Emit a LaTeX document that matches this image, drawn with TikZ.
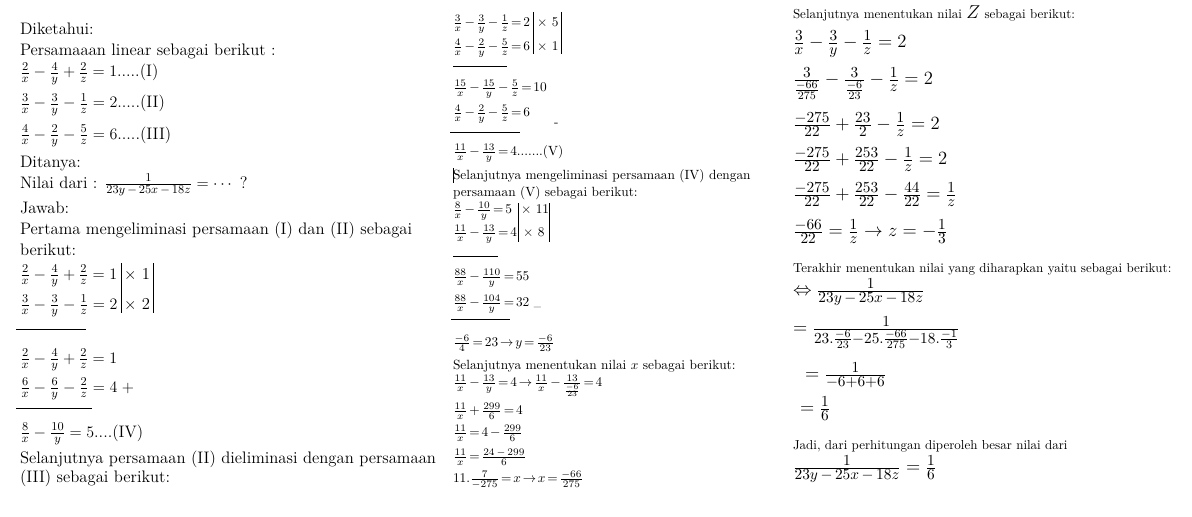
\RequirePackage{fix-cm}
\documentclass[tikz,border=0pt]{standalone}
\usepackage{amsmath}
\DeclareMathSizes{12.5}{12}{9}{7}
\DeclareMathSizes{10}{10}{7.5}{6}
\DeclareMathSizes{14}{14}{11.5}{8.5}
\newcommand{\sm}{\mkern3mu{-}\mkern3mu}
\newcommand{\tightmath}{\medmuskip=2.5mu\relax\thickmuskip=2.5mu\relax}
\begin{document}
\begin{tikzpicture}[x=0.75pt,y=-0.75pt,
  L/.style={anchor=base west,inner sep=0pt,outer sep=0pt,font=\fontsize{12.5}{14}\selectfont},
  M/.style={anchor=base west,inner sep=0pt,outer sep=0pt,font=\fontsize{10}{12}\selectfont\tightmath},
  Mt/.style={anchor=base west,inner sep=0pt,outer sep=0pt,font=\fontsize{9.75}{12}\selectfont},
  R/.style={anchor=base west,inner sep=0pt,outer sep=0pt,font=\fontsize{14}{16}\selectfont},
  rule/.style={line width=0.7pt},
  vbar/.style={line width=0.6pt}]
\useasboundingbox (0,0) rectangle (1192,517);
\fill[white] (0,0) rectangle (1192,517);
% ---------- left column ----------
\node[L] (l1) at (20,35) {Diketahui:};
\node[L] (l2) at (20,56) {Persamaaan linear sebagai berikut :};
\node[L] (l3) at (20,77) {$\frac{2}{x}-\frac{4}{y}+\frac{2}{z}=1$.....(I)};
\node[L] (l4) at (20,108) {$\frac{3}{x}-\frac{3}{y}-\frac{1}{z}=2$.....(II)};
\node[L] (l5) at (20,139) {$\frac{4}{x}-\frac{2}{y}-\frac{5}{z}=6$.....(III)};
\node[L] (l6) at (20,167) {Ditanya:};
\node[L] (l7) at (20,188) {Nilai dari : $\frac{1}{23y\sm 25x\sm 18z}=\cdots$ ?};
\node[L] (l8) at (20,213) {Jawab:};
\node[L] (l9) at (20,234) {Pertama mengeliminasi persamaan (I) dan (II) sebagai};
\node[L] (l10) at (20,255) {berikut:};
\node[L] (l11) at (20,279) {$\frac{2}{x}-\frac{4}{y}+\frac{2}{z}=1$};
\node[L] (l12) at (20,309) {$\frac{3}{x}-\frac{3}{y}-\frac{1}{z}=2$};
\node[L] (lx1) at (124,279) {$\times$ 1};
\node[L] (lx2) at (124,309) {$\times$ 2};
\draw[vbar] (121,263) -- (121,313);
\draw[vbar] (153,263) -- (153,313);
\draw[rule] (16,329) -- (86,329);
\node[L] (l13) at (20,363) {$\frac{2}{x}-\frac{4}{y}+\frac{2}{z}=1$};
\node[L] (l14) at (20,392) {$\frac{6}{x}-\frac{6}{y}-\frac{2}{z}=4\;+$};
\draw[rule] (16,408) -- (92,408);
\node[L] (l15) at (20,437) {$\frac{8}{x}-\frac{10}{y}=5$....(IV)};
\node[L] (l16) at (20,463) {Selanjutnya persamaan (II) dieliminasi dengan persamaan};
\node[L] (l17) at (20,482) {(III) sebagai berikut:};
% ---------- middle column ----------
\node[M] (m1) at (453,26.5) {$\frac{3}{x}-\frac{3}{y}-\frac{1}{z}=2$};
\node[M] (m2) at (453,50.5) {$\frac{4}{x}-\frac{2}{y}-\frac{5}{z}=6$};
\node[M] (mx1) at (537,26.5) {$\times$ 5};
\node[M] (mx2) at (537,50.5) {$\times$ 1};
\draw[vbar] (533,12) -- (533,54);
\draw[vbar] (561,12) -- (561,54);
\draw[rule] (453,66) -- (507,66);
\node[M] (m3) at (453,91.5) {$\frac{15}{x}-\frac{15}{y}-\frac{5}{z}=10$};
\node[M] (m4) at (453,116.5) {$\frac{4}{x}-\frac{2}{y}-\frac{5}{z}=6$};
\node[M] (md1) at (554,127) {-};
\draw[rule] (450,132) -- (520,132);
\node[M] (m5) at (453,155.5) {$\frac{11}{x}-\frac{13}{y}=4$.......(V)};
\draw[line width=0.4pt] (453.5,168) -- (453.5,183);
\node[M] (m6) at (453,179) {Selanjutnya mengeliminasi persamaan (IV) dengan};
\node[M] (m7) at (453,196) {persamaan (V) sebagai berikut:};
\node[M] (m8) at (453,213.5) {$\frac{8}{x}-\frac{10}{y}=5$};
\node[M] (m9) at (453,236.5) {$\frac{11}{x}-\frac{13}{y}=4$};
\node[M] (mx3) at (521,213.5) {$\times$ 11};
\node[M] (mx4) at (523,236.5) {$\times$ 8};
\draw[vbar] (518,203) -- (518,242);
\draw[vbar] (549,203) -- (549,242);
\draw[rule] (453,256) -- (498,256);
\node[M] (m10) at (453,280.5) {$\frac{88}{x}-\frac{110}{y}=55$};
\node[M] (m11) at (453,306.5) {$\frac{88}{x}-\frac{104}{y}=32$ {\fontsize{6}{6}\selectfont\textunderscore}};
\draw[rule] (451,319) -- (510,319);
\node[M] (m12) at (453,346.5) {$\frac{-6}{4}=23\rightarrow y=\frac{-6}{23}$};
\node[M] (m13) at (453,369) {Selanjutnya menentukan nilai $x$ sebagai berikut:};
\node[M] (m14) at (453,386.5) {$\frac{11}{x}-\frac{13}{y}=4\rightarrow\frac{11}{x}-\frac{13}{\frac{-6}{23}}=4$};
\node[M] (m15) at (453,414.5) {$\frac{11}{x}+\frac{299}{6}=4$};
\node[M] (m16) at (453,436.5) {$\frac{11}{x}=4-\frac{299}{6}$};
\node[M] (m17) at (453,460.5) {$\frac{11}{x}=\frac{24\sm 299}{6}$};
\node[M] (m18) at (453,482.5) {$11.\frac{7}{-275}=x\rightarrow x=\frac{-66}{275}$};
% ---------- right column ----------
\node[Mt] (r0) at (793,19) {Selanjutnya menentukan nilai {\fontsize{14}{16}\selectfont$Z$} sebagai berikut:};
\node[R] (r1) at (793,47.7) {$\frac{3}{x}-\frac{3}{y}-\frac{1}{z}=2$};
\node[R] (r2) at (793,84.7) {$\frac{3}{\frac{-66}{275}}-\frac{3}{\frac{-6}{23}}-\frac{1}{z}=2$};
\node[R] (r3) at (793,129.7) {$\frac{-275}{22}+\frac{23}{2}-\frac{1}{z}=2$};
\node[R] (r4) at (793,164.7) {$\frac{-275}{22}+\frac{253}{22}-\frac{1}{z}=2$};
\node[R] (r5) at (793,199.7) {$\frac{-275}{22}+\frac{253}{22}-\frac{44}{22}=\frac{1}{z}$};
\node[R] (r6) at (793,236.7) {$\frac{-66}{22}=\frac{1}{z}\rightarrow z=-\frac{1}{3}$};
\node[Mt] (r7) at (793,272) {Terakhir menentukan nilai yang diharapkan yaitu sebagai berikut:};
\node[R] (r8) at (793,295.7) {$\Leftrightarrow\frac{1}{23y\sm 25x\sm 18z}$};
\node[R] (r9) at (793,333.7) {$=\frac{1}{23.\frac{-6}{23}-25.\frac{-66}{275}-18.\frac{-1}{3}}$};
\node[R] (r10) at (805,379.7) {$=\frac{1}{-6+6+6}$};
\node[R] (r11) at (800,413.7) {$=\frac{1}{6}$};
\node[Mt] (r12) at (793,449) {Jadi, dari perhitungan diperoleh besar nilai dari};
\node[R] (r13) at (793,472.7) {$\frac{1}{23y\sm 25x\sm 18z}=\frac{1}{6}$};
\end{tikzpicture}
\end{document}
